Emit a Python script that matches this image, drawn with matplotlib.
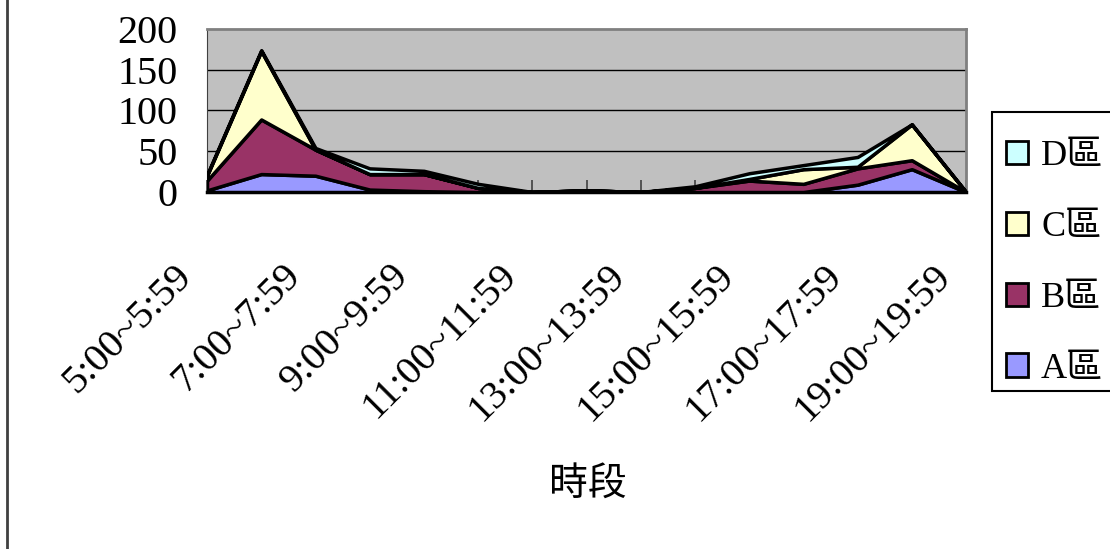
import matplotlib.pyplot as plt
import matplotlib.transforms as mtransforms
from matplotlib.lines import Line2D
from matplotlib.patches import Patch, Rectangle

# hourly slots 5:00 .. 19:00
hours = list(range(5, 20))
slots = ['%d:00~%d:59' % (h, h) for h in hours]

area_a = [2, 22, 20, 3, 1, 0, 0, 0, 0, 0, 0, 0, 9, 28, 0]
area_b = [12, 67, 32, 19, 21, 5, 0, 2, 0, 5, 14, 10, 20, 11, 0]
area_c = [6, 84, 0, 0, 0, 0, 0, 0, 0, 0, 2, 18, 2, 44, 0]
area_d = [1, 1, 2, 7, 4, 5, 0, 0, 0, 2, 7, 5, 12, 0, 0]

names = ['A區', 'B區', 'C區', 'D區']
colors = ['#9999FF', '#993366', '#FFFFCC', '#CCFFFF']

fam = ['Liberation Serif', 'Noto Sans CJK TC']
plt.rcParams['font.family'] = fam

W, H = 1110, 549
fig = plt.figure(figsize=(W/100, H/100), dpi=100)
ax = fig.add_axes([207/W, 1-192/H, (966-207)/W, (192-29)/H])
ax.set_facecolor('#C0C0C0')

x = list(range(len(slots)))
ax.stackplot(x, area_a, area_b, area_c, area_d, colors=colors,
             edgecolor='black', linewidth=2.5, zorder=3)

ax.set_xlim(0, len(slots) - 1)
ax.set_ylim(0, 200)
ax.set_yticks([0, 50, 100, 150, 200])
ax.tick_params(axis='y', length=0, pad=21, labelsize=29)
for g in [50, 100, 150]:
    ax.axhline(g, color='black', lw=1, zorder=1)

ax.set_xticks(x)
ax.set_xticklabels([s if i % 2 == 0 else '' for i, s in enumerate(slots)],
                   rotation=45, ha='right', rotation_mode='anchor', fontsize=29)
ax.tick_params(axis='x', direction='in', length=9, width=1.2, color='#404040', pad=47)
off = mtransforms.ScaledTranslation(-0.34, 0, fig.dpi_scale_trans)
for lab in ax.get_xticklabels():
    lab.set_transform(lab.get_transform() + off)

for s in ['top', 'right']:
    ax.spines[s].set_color('#808080')
    ax.spines[s].set_linewidth(2)
ax.spines['left'].set_color('#404040')
ax.spines['bottom'].set_linewidth(2.5)

fig.text(588/W, 1-485/H, '時段', ha='center', va='center', fontsize=28)

# legend box runs off the right edge like the original
fig.add_artist(Rectangle((992/W, 1-391/H), 130/W, (391-112)/H,
                         transform=fig.transFigure, facecolor='white',
                         edgecolor='black', lw=1.5))
handles = [Patch(facecolor=c, edgecolor='black', linewidth=2) for c in colors]
leg = fig.legend(handles[::-1], names[::-1], loc='center left',
                 bbox_to_anchor=(1006/W, 1-263/H), fontsize=26,
                 frameon=False, handlelength=0.62, handleheight=0.62,
                 handletextpad=0.35, labelspacing=1.05, borderpad=0,
                 borderaxespad=0)

fig.add_artist(Line2D([7/W, 7/W], [0, 1], transform=fig.transFigure,
                      color='#404040', lw=2))

plt.savefig('out.png', dpi=100)
